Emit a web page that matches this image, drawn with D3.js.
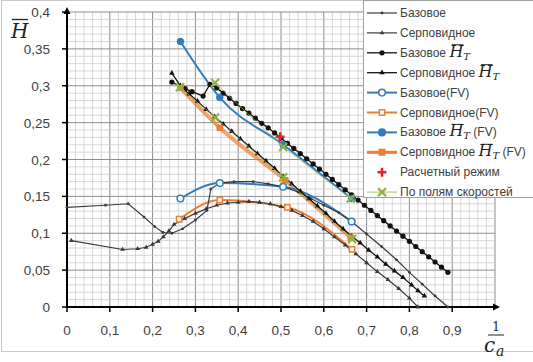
<!DOCTYPE html>
<html>
<head>
<meta charset="utf-8">
<script src="https://cdn.jsdelivr.net/npm/d3@7"></script>
<style>
  html, body { margin: 0; padding: 0; background: #fff; }
  svg { display: block; }
</style>
</head>
<body>
<div id="chart"></div>
<script>
(function () {
  'use strict';

  var xTicks = [0, 0.1, 0.2, 0.3, 0.4, 0.5, 0.6, 0.7, 0.8, 0.9];
  var yTicks = [0, 0.05, 0.1, 0.15, 0.2, 0.25, 0.3, 0.35, 0.4];

  // Базовое (H)
  var bazovoe = [[0,0.135],[0.09,0.138],[0.143,0.14],[0.18,0.122],[0.205,0.109],[0.224,0.101],[0.245,0.1],[0.27,0.106],[0.3,0.118],[0.327,0.131],[0.336,0.16],[0.357,0.168],[0.39,0.17],[0.435,0.17],[0.47,0.167],[0.505,0.163],[0.54,0.156],[0.57,0.147],[0.6,0.138],[0.635,0.128],[0.665,0.116],[0.7,0.099],[0.735,0.082],[0.77,0.064],[0.8,0.047],[0.83,0.031],[0.86,0.015],[0.89,0]];
  // Серповидное (H)
  var serp = [[0.01,0.09],[0.13,0.078],[0.165,0.079],[0.185,0.081],[0.2,0.085],[0.213,0.089],[0.225,0.095],[0.238,0.103],[0.25,0.112],[0.275,0.12],[0.3,0.127],[0.325,0.133],[0.35,0.138],[0.375,0.141],[0.4,0.142],[0.425,0.143],[0.45,0.142],[0.475,0.14],[0.5,0.136],[0.525,0.131],[0.55,0.124],[0.575,0.116],[0.6,0.106],[0.625,0.095],[0.65,0.084],[0.675,0.072],[0.7,0.06],[0.725,0.048],[0.75,0.037],[0.775,0.025],[0.8,0.012],[0.82,0]];
  // Базовое H_T
  var bazovoeT = [[0.245,0.305],[0.276,0.296],[0.292,0.292],[0.318,0.286],[0.334,0.302],[0.35,0.297],[0.365,0.29],[0.38,0.283],[0.395,0.276],[0.41,0.269],[0.425,0.263],[0.44,0.256],[0.455,0.249],[0.47,0.243],[0.485,0.236],[0.5,0.229],[0.515,0.222],[0.53,0.215],[0.545,0.208],[0.56,0.201],[0.575,0.194],[0.59,0.187],[0.605,0.18],[0.62,0.173],[0.635,0.166],[0.65,0.159],[0.665,0.152],[0.68,0.145],[0.695,0.138],[0.71,0.131],[0.725,0.124],[0.74,0.117],[0.755,0.11],[0.77,0.103],[0.785,0.096],[0.8,0.089],[0.815,0.082],[0.83,0.075],[0.845,0.068],[0.86,0.061],[0.875,0.054],[0.89,0.047]];
  // Серповидное H_T
  var serpT = [[0.245,0.317],[0.265,0.3],[0.285,0.289],[0.305,0.279],[0.325,0.268],[0.345,0.258],[0.365,0.248],[0.385,0.238],[0.405,0.228],[0.425,0.218],[0.445,0.208],[0.465,0.198],[0.485,0.188],[0.505,0.177],[0.525,0.167],[0.545,0.157],[0.565,0.147],[0.585,0.137],[0.605,0.127],[0.625,0.116],[0.645,0.106],[0.665,0.096],[0.685,0.087],[0.705,0.077],[0.725,0.068],[0.745,0.058],[0.765,0.049],[0.785,0.04],[0.805,0.03],[0.82,0.022],[0.835,0.015]];
  // FV series
  var bazovoeFV = [[0.265,0.147],[0.357,0.168],[0.505,0.163],[0.665,0.116]];
  var serpFV = [[0.262,0.119],[0.357,0.145],[0.515,0.135],[0.666,0.078]];
  var bazovoeTFV = [[0.265,0.36],[0.357,0.284],[0.505,0.22],[0.665,0.147]];
  var serpTFV = [[0.265,0.297],[0.357,0.243],[0.51,0.172],[0.663,0.094]];
  // Расчетный режим
  var design = [[0.498,0.231]];
  // По полям скоростей
  var fieldsUpper = [[0.346,0.304],[0.505,0.217],[0.663,0.147]];
  var fieldsLower = [[0.264,0.298],[0.346,0.257],[0.505,0.176],[0.666,0.092]];

  var legendLabels = ['Базовое', 'Серповидное', 'Базовое |T', 'Серповидное |T', 'Базовое(FV)', 'Серповидное(FV)', 'Базовое |T (FV)', 'Серповидное |T  (FV)', 'Расчетный режим', 'По полям скоростей'];

  var W = 533, H = 362;
  var BLUE = '#2f7cc0', ORANGE = '#ed7d31', GRAY = '#3a3a3a';

  var svg = d3.select('#chart').append('svg').attr('width', W).attr('height', H);

  var x = d3.scaleLinear().domain([0, 1]).range([67, 495]);
  var y = d3.scaleLinear().domain([0, 0.4]).range([307, 12]);

  // outer frame
  svg.append('rect').attr('x', 1.5).attr('y', 0.5).attr('width', 545).attr('height', 351)
    .attr('fill', '#fff').attr('stroke', '#c8c8c8');

  // grid
  var grid = svg.append('g');
  d3.range(0, 51).forEach(function (i) {
    var v = i * 0.02, major = i % 5 === 0;
    grid.append('line').attr('x1', x(v)).attr('x2', x(v)).attr('y1', y(0)).attr('y2', y(0.4))
      .attr('stroke', major ? '#8c8c8c' : '#cdcdcd').attr('stroke-width', major ? 1 : 0.8);
  });
  d3.range(0, 41).forEach(function (i) {
    var v = i * 0.01, major = i % 5 === 0;
    grid.append('line').attr('x1', x(0)).attr('x2', x(1)).attr('y1', y(v)).attr('y2', y(v))
      .attr('stroke', major ? '#8c8c8c' : '#cdcdcd').attr('stroke-width', major ? 1 : 0.8);
  });

  // axes
  var fmt = function (d) { return String(+d.toFixed(2)).replace('.', ','); };
  var ax = svg.append('g');
  ax.append('line').attr('x1', x(0)).attr('x2', x(1) + 2).attr('y1', y(0)).attr('y2', y(0)).attr('stroke', '#000').attr('stroke-width', 2);
  ax.append('line').attr('x1', x(0)).attr('x2', x(0)).attr('y1', y(0)).attr('y2', y(0.4) - 3).attr('stroke', '#000').attr('stroke-width', 2);
  ax.append('path').attr('d', 'M' + (x(1) + 5) + ',' + y(0) + 'l-7,-3.5l0,7z').attr('fill', '#000');
  ax.append('path').attr('d', 'M' + x(0) + ',' + (y(0.4) - 5) + 'l-3.5,7l7,0z').attr('fill', '#000');

  xTicks.forEach(function (t) {
    ax.append('line').attr('x1', x(t)).attr('x2', x(t)).attr('y1', y(0)).attr('y2', y(0) + 5).attr('stroke', '#000').attr('stroke-width', 1.5);
    ax.append('text').attr('x', x(t)).attr('y', 335).attr('text-anchor', 'middle')
      .attr('font-family', 'Liberation Sans, Arial, sans-serif').attr('font-size', 13.5).attr('fill', '#404040').text(fmt(t));
  });
  yTicks.forEach(function (t) {
    ax.append('line').attr('x1', x(0) - 5).attr('x2', x(0)).attr('y1', y(t)).attr('y2', y(t)).attr('stroke', '#000').attr('stroke-width', 1.5);
    ax.append('text').attr('x', 50).attr('y', y(t) + 5).attr('text-anchor', 'end')
      .attr('font-family', 'Liberation Sans, Arial, sans-serif').attr('font-size', 13.5).attr('fill', '#404040').text(fmt(t));
  });

  // axis titles
  svg.append('text').attr('x', 11).attr('y', 38).attr('font-family', 'DejaVu Serif, serif').attr('font-style', 'italic')
    .attr('font-size', 20).attr('fill', '#222').text('H');
  svg.append('line').attr('x1', 12).attr('x2', 28).attr('y1', 19.5).attr('y2', 19.5).attr('stroke', '#222').attr('stroke-width', 1.3);
  svg.append('text').attr('x', 496).attr('y', 331).attr('text-anchor', 'middle').attr('font-family', 'DejaVu Serif, serif')
    .attr('font-size', 12).attr('fill', '#222').text('1');
  svg.append('line').attr('x1', 488).attr('x2', 504).attr('y1', 335).attr('y2', 335).attr('stroke', '#222').attr('stroke-width', 1);
  svg.append('text').attr('x', 484).attr('y', 352).attr('font-family', 'DejaVu Serif, serif').attr('font-style', 'italic')
    .attr('font-size', 20).attr('fill', '#222').text('c');
  svg.append('text').attr('x', 496).attr('y', 356).attr('font-family', 'DejaVu Serif, serif').attr('font-style', 'italic')
    .attr('font-size', 14).attr('fill', '#222').text('a');

  // series
  var plot = svg.append('g');
  var line = d3.line().x(function (d) { return x(d[0]); }).y(function (d) { return y(d[1]); });
  var smooth = d3.line().x(function (d) { return x(d[0]); }).y(function (d) { return y(d[1]); }).curve(d3.curveMonotoneX);

  var tri = d3.symbol().type(d3.symbolTriangle);
  var sq = d3.symbol().type(d3.symbolSquare);

  function markers(data, kind, size, fill, stroke, sw) {
    plot.selectAll(null).data(data).enter().append(function () {
      return document.createElementNS('http://www.w3.org/2000/svg', kind === 'circle' ? 'circle' : 'path');
    }).each(function (d) {
      var s = d3.select(this);
      if (kind === 'circle') s.attr('cx', x(d[0])).attr('cy', y(d[1])).attr('r', size);
      else s.attr('transform', 'translate(' + x(d[0]) + ',' + y(d[1]) + ')').attr('d', (kind === 'tri' ? tri : sq).size(size)());
      s.attr('fill', fill).attr('stroke', stroke || 'none').attr('stroke-width', sw || 1);
    });
  }

  // FV coloured lines below the black lines
  plot.append('path').datum(serpTFV).attr('d', smooth).attr('fill', 'none').attr('stroke', ORANGE).attr('stroke-opacity', 0.7).attr('stroke-width', 4);
  plot.append('path').datum(serpFV).attr('d', smooth).attr('fill', 'none').attr('stroke', ORANGE).attr('stroke-width', 2);
  plot.append('path').datum(bazovoeFV).attr('d', smooth).attr('fill', 'none').attr('stroke', BLUE).attr('stroke-width', 2);
  plot.append('path').datum(bazovoeTFV).attr('d', smooth).attr('fill', 'none').attr('stroke', BLUE).attr('stroke-width', 2);

  plot.append('path').datum(bazovoe).attr('d', line).attr('fill', 'none').attr('stroke', GRAY).attr('stroke-width', 1.2);
  markers(bazovoe, 'circle', 1.4, GRAY);
  plot.append('path').datum(serp).attr('d', line).attr('fill', 'none').attr('stroke', GRAY).attr('stroke-width', 1.2);
  markers(serp, 'tri', 10, GRAY);
  plot.append('path').datum(serpT).attr('d', line).attr('fill', 'none').attr('stroke', '#111').attr('stroke-width', 1.3);
  markers(serpT, 'tri', 13, '#111');
  plot.append('path').datum(bazovoeT).attr('d', line).attr('fill', 'none').attr('stroke', '#111').attr('stroke-width', 1.3);
  markers(bazovoeT, 'circle', 2.6, '#111');

  // FV markers on top
  markers(bazovoeFV, 'circle', 3.3, '#fff', BLUE, 1.5);
  markers(serpFV, 'sq', 28, '#fff', ORANGE, 1.5);
  markers(bazovoeTFV, 'circle', 3.3, BLUE, BLUE, 1);
  markers(serpTFV, 'sq', 30, ORANGE, ORANGE, 1);

  // По полям скоростей
  [fieldsUpper, fieldsLower].forEach(function (grp) {
    plot.append('path').datum(grp).attr('d', line).attr('fill', 'none').attr('stroke', '#9bbb59').attr('stroke-width', 0.9).attr('stroke-opacity', 0.8);
    plot.selectAll(null).data(grp).enter().append('path')
      .attr('d', 'M-4,-4L4,4M-4,4L4,-4')
      .attr('transform', function (d) { return 'translate(' + x(d[0]) + ',' + y(d[1]) + ')'; })
      .attr('stroke', '#8fb33e').attr('stroke-width', 2.2);
  });
  // Расчетный режим
  plot.selectAll(null).data(design).enter().append('path')
    .attr('d', 'M-4.5,0L4.5,0M0,-4.5L0,4.5')
    .attr('transform', function (d) { return 'translate(' + x(d[0]) + ',' + y(d[1]) + ')'; })
    .attr('stroke', '#e8202a').attr('stroke-width', 2.5);

  // legend
  var lg = svg.append('g');
  lg.append('rect').attr('x', 363.5).attr('y', 0.5).attr('width', 185).attr('height', 197)
    .attr('fill', '#fff').attr('stroke', '#a0a0a0');

  var styles = [
    { stroke: GRAY, sw: 1.2, mk: 'circle', ms: 1.4, fill: GRAY },
    { stroke: GRAY, sw: 1.2, mk: 'tri', ms: 10, fill: GRAY },
    { stroke: '#111', sw: 1.3, mk: 'circle', ms: 2.6, fill: '#111' },
    { stroke: '#111', sw: 1.3, mk: 'tri', ms: 13, fill: '#111' },
    { stroke: BLUE, sw: 2, mk: 'circle', ms: 3.3, fill: '#fff', ms2: BLUE },
    { stroke: ORANGE, sw: 2, mk: 'sq', ms: 28, fill: '#fff', ms2: ORANGE },
    { stroke: BLUE, sw: 2, mk: 'circle', ms: 3.3, fill: BLUE, ms2: BLUE },
    { stroke: ORANGE, sw: 3, mk: 'sq', ms: 30, fill: ORANGE, ms2: ORANGE },
    { stroke: null, mk: 'plus' },
    { stroke: '#9bbb59', sw: 0.9, mk: 'x' }
  ];

  legendLabels.forEach(function (lab, i) {
    var cy = 13 + i * 19.9;
    var st = styles[i];
    var g = lg.append('g');
    if (st.stroke) g.append('line').attr('x1', 367).attr('x2', 397).attr('y1', cy).attr('y2', cy).attr('stroke', st.stroke).attr('stroke-width', st.sw);
    if (st.mk === 'circle') g.append('circle').attr('cx', 382).attr('cy', cy).attr('r', st.ms).attr('fill', st.fill).attr('stroke', st.ms2 || 'none').attr('stroke-width', 1.5);
    else if (st.mk === 'tri' || st.mk === 'sq') g.append('path').attr('transform', 'translate(382,' + cy + ')')
      .attr('d', (st.mk === 'tri' ? tri : sq).size(st.ms)()).attr('fill', st.fill).attr('stroke', st.ms2 || 'none').attr('stroke-width', 1.5);
    else if (st.mk === 'plus') g.append('path').attr('transform', 'translate(382,' + cy + ')').attr('d', 'M-4.5,0L4.5,0M0,-4.5L0,4.5').attr('stroke', '#e8202a').attr('stroke-width', 2.5);
    else if (st.mk === 'x') g.append('path').attr('transform', 'translate(382,' + cy + ')').attr('d', 'M-4,-4L4,4M-4,4L4,-4').attr('stroke', '#8fb33e').attr('stroke-width', 2.2);

    var parts = lab.split('|');
    var t = g.append('text').attr('x', 400).attr('y', cy + 4).attr('font-family', 'Liberation Sans, Arial, sans-serif')
      .attr('font-size', 12).attr('fill', '#404040');
    t.append('tspan').text(parts[0]);
    if (parts.length > 1) {
      var hIdx = parts[0].length;
      t.append('tspan').attr('font-family', 'DejaVu Serif, serif').attr('font-style', 'italic').attr('font-size', 16).attr('fill', '#222').text('H');
      t.append('tspan').attr('font-family', 'DejaVu Serif, serif').attr('font-style', 'italic').attr('font-size', 10).attr('fill', '#222').attr('dy', 3).text(parts[1].charAt(0));
      t.append('tspan').attr('dy', -3).text(parts[1].slice(1));
      var ext = t.node().getExtentOfChar(hIdx);
      g.append('line').attr('x1', ext.x + 2.5).attr('x2', ext.x + ext.width).attr('y1', cy - 8).attr('y2', cy - 8)
        .attr('stroke', '#222').attr('stroke-width', 1);
    }
  });
})();
</script>
</body>
</html>
